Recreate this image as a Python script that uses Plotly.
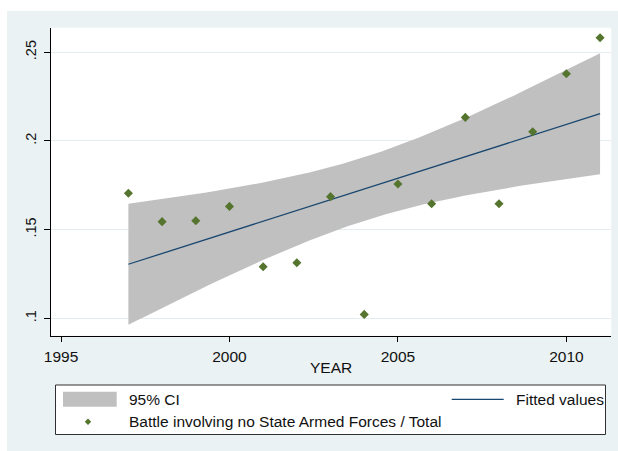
import numpy as np
import plotly.graph_objects as go

# Page size in pixels
W, H = 618, 451

# Observed shares by year
years = [1997, 1998, 1999, 2000, 2001, 2002, 2003, 2004,
         2005, 2006, 2007, 2008, 2009, 2010, 2011]
share = [0.1705, 0.1545, 0.1550, 0.1631, 0.1291, 0.1313, 0.1686, 0.1022,
         0.1757, 0.1646, 0.2133, 0.1646, 0.2052, 0.2379, 0.2582]

x_ticks = [1995, 2000, 2005, 2010]
y_ticks = [0.10, 0.15, 0.20, 0.25]
y_tick_text = [".1", ".15", ".2", ".25"]

series_name = "Battle involving no State Armed Forces / Total"

# Colours (Stata s2color scheme)
NAVY = "#1A476F"
GREEN = "#55752F"
CI_GREY = "#C0C0C0"
REGION = "#EAF2F3"
GRID = "#E3EDEF"
FONT = "Liberation Sans, Arial, sans-serif"

# Linear fit with 95% confidence interval of the mean (lfitci)
x = np.array(years, dtype=float)
y = np.array(share, dtype=float)
n = len(x)
slope, intercept = np.polyfit(x, y, 1)
resid = y - (intercept + slope * x)
s = np.sqrt(resid @ resid / (n - 2))
sxx = ((x - x.mean()) ** 2).sum()
t_crit = 2.1604  # t(0.975, df=13)
grid = np.linspace(x.min(), x.max(), 100)
fit = intercept + slope * grid
half = t_crit * s * np.sqrt(1.0 / n + (grid - x.mean()) ** 2 / sxx)
upper = fit + half
lower = fit - half


def px(v):
    return v / W


def py(v):
    return 1 - v / H


fig = go.Figure()

fig.add_trace(go.Scatter(
    x=np.concatenate([grid, grid[::-1]]),
    y=np.concatenate([upper, lower[::-1]]),
    fill="toself", fillcolor=CI_GREY, line=dict(width=0),
    mode="lines", name="95% CI", hoverinfo="skip", showlegend=False,
))
fig.add_trace(go.Scatter(
    x=grid, y=fit, mode="lines", name="Fitted values",
    line=dict(color=NAVY, width=1.3), showlegend=False,
))
fig.add_trace(go.Scatter(
    x=years, y=share, mode="markers", name=series_name,
    marker=dict(symbol="diamond", size=7, color=GREEN, line=dict(width=0)),
    showlegend=False,
))

# Plot area in pixels
L, R, T, B = 50.7, 611.3, 27.7, 335.7

shapes = [
    # graph region
    dict(type="rect", xref="paper", yref="paper", x0=px(7), x1=1, y0=0, y1=py(11),
         fillcolor=REGION, line=dict(width=0), layer="below"),
    # plot region
    dict(type="rect", xref="paper", yref="paper", x0=px(L), x1=px(R), y0=py(B), y1=py(T),
         fillcolor="white", line=dict(width=0), layer="below"),
    # legend frame
    dict(type="rect", xref="paper", yref="paper", x0=px(55.5), x1=px(605.5),
         y0=py(434.5), y1=py(385), fillcolor="white",
         line=dict(color="#303030", width=1), layer="below"),
    # legend key: CI
    dict(type="rect", xref="paper", yref="paper", x0=px(63), x1=px(116.7),
         y0=py(406.7), y1=py(391.7), fillcolor=CI_GREY, line=dict(width=0)),
    # legend key: fitted line
    dict(type="line", xref="paper", yref="paper", x0=px(451.7), x1=px(503.7),
         y0=py(399.3), y1=py(399.3), line=dict(color=NAVY, width=1.3)),
    # legend key: marker
    dict(type="path", xref="paper", yref="paper",
         path=(f"M {px(84.8)},{py(421.7)} L {px(88)},{py(418.4)} "
               f"L {px(91.2)},{py(421.7)} L {px(88)},{py(425)} Z"),
         fillcolor=GREEN, line=dict(width=0)),
]

legend_font = dict(family=FONT, size=15.5, color="#111111")
annotations = [
    dict(text="95% CI", x=px(126.6), y=py(399.3)),
    dict(text=series_name, x=px(126.6), y=py(421.7)),
    dict(text="Fitted values", x=px(514.4), y=py(399.3)),
]
for a in annotations:
    a.update(xref="paper", yref="paper", xanchor="left", yanchor="middle",
             showarrow=False, font=legend_font)

# x-axis title
annotations.append(dict(
    text="YEAR", xref="paper", yref="paper", x=px((L + R) / 2), y=py(367.5),
    xanchor="center", yanchor="middle", showarrow=False,
    font=dict(family=FONT, size=15.5, color="#111111"),
))

fig.update_layout(
    width=W, height=H,
    margin=dict(l=0, r=0, t=0, b=0, pad=0, autoexpand=False),
    paper_bgcolor="white",
    plot_bgcolor="rgba(0,0,0,0)",
    showlegend=False,
    shapes=shapes,
    annotations=annotations,
    font=dict(family=FONT, size=15, color="#111111"),
    xaxis=dict(
        domain=[px(L), px(R)],
        range=[1994.694, 2011.333],
        tickvals=x_ticks,
        ticks="outside", ticklen=5, tickcolor="black", tickwidth=1,
        showline=True, linecolor="black", linewidth=1,
        showgrid=False, zeroline=False, automargin=False,
        tickfont=dict(size=15.5), ticklabelstandoff=2,
    ),
    yaxis=dict(
        domain=[py(B), py(T)],
        range=[0.09019, 0.26387],
        tickvals=y_ticks, ticktext=y_tick_text, tickangle=-90,
        ticks="outside", ticklen=6, tickcolor="black", tickwidth=1,
        showline=True, linecolor="black", linewidth=1,
        showgrid=True, gridcolor=GRID, gridwidth=1,
        zeroline=False, automargin=False,
        tickfont=dict(size=14.5), ticklabelstandoff=2,
    ),
)

fig.write_html("out.html")
